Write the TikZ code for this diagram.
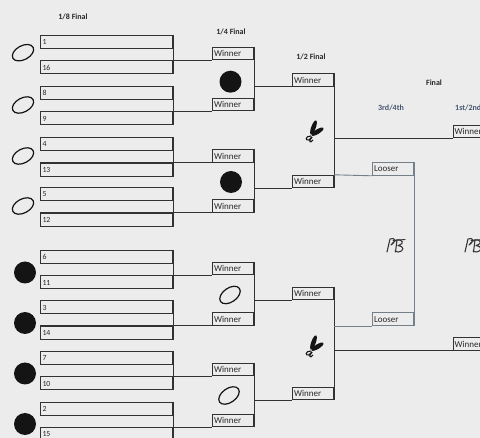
\documentclass[tikz,border=0pt]{standalone}
\usepackage{fontspec}
\setmainfont{Carlito}
\definecolor{paper}{RGB}{236,236,236}
\definecolor{lc}{RGB}{50,50,50}
\definecolor{lc2}{RGB}{115,128,138}
\definecolor{tc}{RGB}{40,40,40}
\definecolor{bluet}{RGB}{70,85,110}
\definecolor{inkc}{RGB}{20,20,20}
\begin{document}
\begin{tikzpicture}[x=1pt,y=-1pt,
  ln/.style={draw=lc, line width=1pt},
  ln2/.style={draw=lc2, line width=0.9pt},
  pbox/.style={draw=lc, line width=1pt, minimum height=13pt, text width=128pt,
    inner xsep=2pt, inner ysep=0pt, align=left, anchor=north west, text=tc,
    font=\fontsize{7.8}{8}\selectfont},
  wbox/.style={draw=lc, line width=1pt, minimum height=12.5pt, text width=38pt,
    inner xsep=1.5pt, inner ysep=0pt, align=left, anchor=south west, text=tc,
    font=\fontsize{9}{9}\selectfont},
  lbox/.style={wbox, draw=lc2},
  hdr/.style={font=\bfseries\fontsize{8}{9}\selectfont, text=tc, inner sep=0pt},
  hdrb/.style={font=\bfseries\fontsize{8}{9}\selectfont, text=bluet, inner sep=0pt},
  openm/.style={draw=inkc, line width=1.2pt},
  fullm/.style={fill=inkc}
]
\useasboundingbox (0,0) rectangle (480,438);
\fill[paper] (0,0) rectangle (480,438);
\clip (0,0) rectangle (480,438);

% headers
\node[hdr] (h8) at (73,17) {1/8 Final};
\node[hdr] (h4) at (231,32) {1/4 Final};
\node[hdr] (h2) at (311,57) {1/2 Final};
\node[hdr] (hf) at (434,83) {Final};
\node[hdrb] (h34) at (391,108) {3rd/4th};
\node[hdrb, anchor=west] (h12) at (455,108) {1st/2nd};

% 1/8 final boxes
\foreach \i/\y/\a/\b in {1/35/1/16, 2/86/8/9, 3/137.3/4/13, 4/187.5/5/12,
                         5/250/6/11, 6/300.5/3/14, 7/351/7/10, 8/401.7/2/15}{
  \node[pbox] (a\i) at (40,\y) {\a};
  \node[pbox] (b\i) at (40,\y+25.5) {\b};
  \node[wbox] (q\i) at (212,\y+25.5) {Winner};
  \draw[ln] (a\i.north east) -- (b\i.south east);
  \draw[ln] (b\i.north west) -- (q\i.south west);
}

% 1/2 final boxes
\node[wbox] (s1) at (292,87) {Winner};
\node[wbox] (s2) at (292,188.3) {Winner};
\node[wbox] (s3) at (292,300.3) {Winner};
\node[wbox] (s4) at (292,400.3) {Winner};

\draw[ln] (q1.north east) -- (q2.south east);
\draw[ln] (s1.south west -| q1.east) -- (s1.south west);
\draw[ln] (q3.north east) -- (q4.south east);
\draw[ln] (s2.south west -| q3.east) -- (s2.south west);
\draw[ln] (q5.north east) -- (q6.south east);
\draw[ln] (s3.south west -| q5.east) -- (s3.south west);
\draw[ln] (q7.north east) -- (q8.south east);
\draw[ln] (s4.south west -| q7.east) -- (s4.south west);

% final boxes
\node[wbox] (f1) at (452.5,138.3) {Winner};
\node[wbox] (f2) at (452.5,350.7) {Winner};
\node[lbox] (l1) at (372,175.8) {Looser};
\node[lbox] (l2) at (372,326) {Looser};

\draw[ln] (s1.north east) -- (s2.south east);
\draw[ln] (f1.south west -| s1.east) -- (f1.south west);
\draw[ln] (s3.north east) -- (s4.south east);
\draw[ln] (f2.south west -| s3.east) -- (f2.south west);
\draw[ln2] (s2.north east) -- (l1.south west);
\draw[ln2] (l2.south west -| s3.east) -- (l2.south west);
\draw[ln2] (l1.north east) -- (l2.south east);

% left marks
\foreach \y in {52.7,105,156,206}{
  \draw[openm] (23,\y) ellipse[x radius=11.5pt, y radius=7pt, rotate=28];
}
\foreach \y in {272.5,323,373.5,424}{
  \fill[fullm] (25,\y) circle[radius=11pt];
}
% quarter marks
\fill[fullm] (230.5,81.7) circle[radius=11pt];
\fill[fullm] (231,182) circle[radius=11pt];
\draw[openm] (230,295) ellipse[x radius=11.5pt, y radius=7pt, rotate=35];
\draw[openm] (229,395.5) ellipse[x radius=11.5pt, y radius=7pt, rotate=35];

% shuttle marks
\foreach \cx/\cy in {313/130, 313/345}{
  \begin{scope}[shift={(\cx,\cy)}]
    \fill[inkc] (0.5,-2.5) ellipse[x radius=7.5pt, y radius=2.3pt, rotate=70];
    \fill[inkc] (4.5,1.7) ellipse[x radius=7pt, y radius=2.3pt, rotate=32];
    \draw[inkc, line width=1.1pt] (-2,6) .. controls (-8,6) and (-8,11) .. (-4,10)
      .. controls (-2,9) .. (-1,7);
    \draw[inkc, line width=1.1pt] (-1,7) .. controls (-5,11) and (-3,14) .. (0,10);
  \end{scope}
}

% PB scribbles
\foreach \px in {386,464}{
  \begin{scope}[shift={(\px,238)}]
    \draw[inkc!85, line width=1.1pt, line cap=round, line join=round]
      (1,14) -- (4,1) .. controls (9,-1) and (11,3) .. (5,7)
      .. controls (8,3) and (11,1) .. (14,2) .. controls (19,4) and (15,7) .. (12,7.5)
      .. controls (18,8) and (19,13) .. (12,14) .. controls (10,14) .. (9,13);
    \draw[inkc!85, line width=1.1pt, line cap=round] (11,2) -- (9.5,14);
    \draw[inkc!85, line width=1pt, line cap=round] (7,2.5) -- (19,1.5);
  \end{scope}
}
\end{tikzpicture}
\end{document}
